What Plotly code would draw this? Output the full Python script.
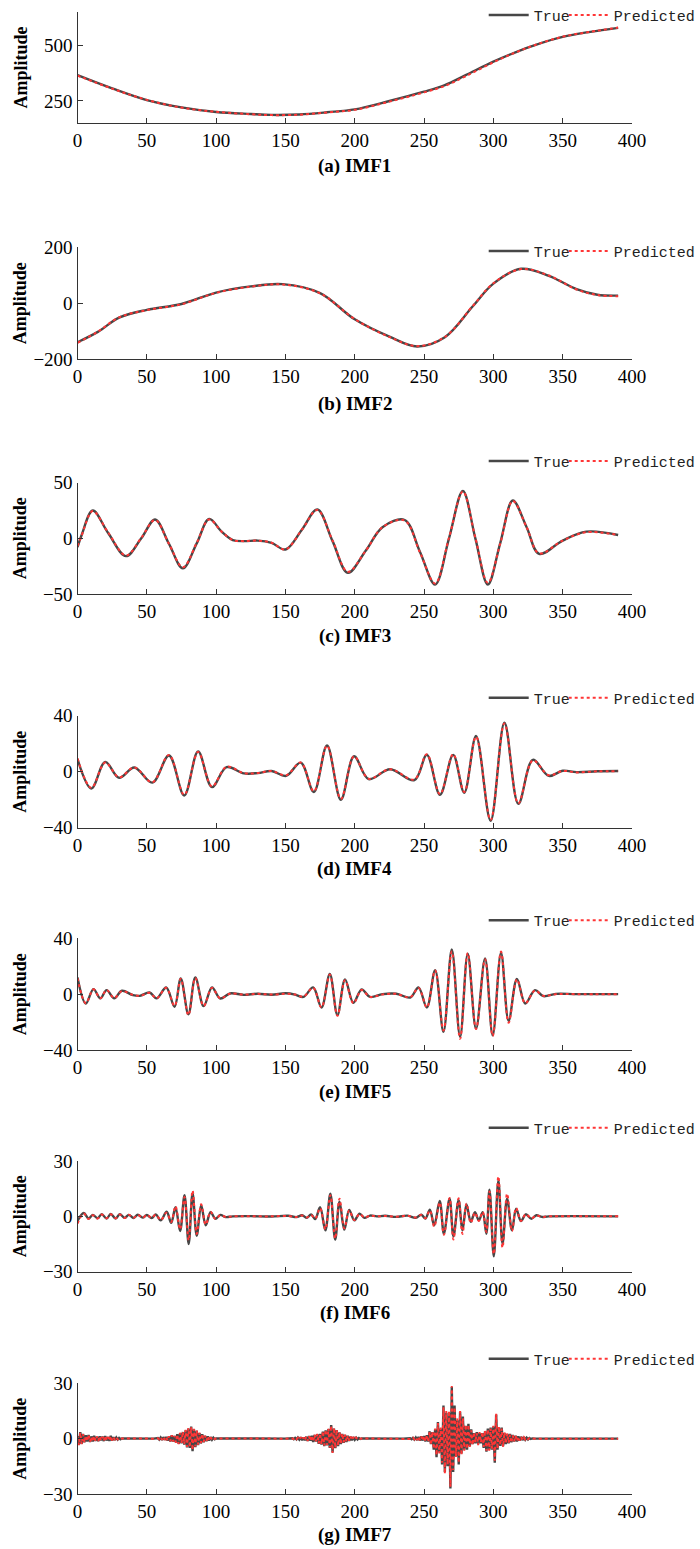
import plotly.graph_objects as go

# ---------------- IMF1 ----------------
x1 = [0, 25, 50, 75, 100, 125, 140, 160, 180, 200, 225, 250, 265, 280, 300, 315, 330, 350, 370, 390]
true1 = [367, 307, 254, 221, 200, 191, 187, 189, 199, 212, 250, 292, 322, 367, 428, 468, 503, 540, 563, 581]
pred1 = [365, 306, 255, 220, 201, 190, 186, 188, 198, 210, 247, 289, 318, 362, 425, 467, 503, 541, 563, 582]

# ---------------- IMF2 ----------------
x2 = [0, 15, 30, 50, 75, 100, 125, 148, 175, 200, 225, 245, 265, 285, 300, 320, 340, 360, 375, 390]
true2 = [-140, -102, -52, -24, -3, 38, 60, 68, 36, -58, -120, -155, -122, -12, 70, 123, 98, 50, 30, 27]
pred2 = [-142, -101, -51, -25, -4, 37, 59, 67, 35, -57, -121, -154, -121, -11, 71, 122, 99, 49, 29, 25]

# ---------------- IMF3 ----------------
x3 = [0, 3, 11, 22, 35, 46, 56, 66, 76, 86, 95, 104, 112, 120, 130, 140, 150, 162, 173, 184,
      195, 208, 220, 236, 247, 258, 268, 278, 287, 296, 305, 314, 324, 333, 350, 367, 390]
true3 = [-8, 3, 25, 5, -16, 0, 17, -5, -27, -4.5, 17.5, 6, -1.5, -2.5, -2, -4, -10, 8, 26, -2.5,
         -31, -11, 10, 16.5, -12, -41.5, 0, 42.5, 0, -41.5, -4, 34, 10, -14, -2, 6, 3]
pred3 = [-7, 2.5, 24.5, 5.5, -15.5, 0.5, 16.5, -5, -26, -4, 17, 6, -1.5, -2.5, -2, -4, -10, 8, 25.5, -2,
         -30, -11, 10, 16, -12.5, -40.5, 0.5, 42, 0.5, -40, -4.5, 33.5, 10, -13.5, -2, 5.5, 3]

# ---------------- IMF4 ----------------
x4 = [0, 10, 20, 30, 41, 54, 66, 77, 87, 97, 107.5, 120, 130, 140, 150.5, 161, 170.5, 180, 190, 199.5,
      210, 225.5, 243, 252, 261.5, 271, 279, 287.5, 298, 308, 318, 328.5, 340, 350, 360, 375, 390]
true4 = [9, -12, 7, -4.4, 3, -7.8, 11.6, -17, 14.5, -11, 3.2, -1.2, -1, 0.5, -3, 6.5, -14.5, 18.7, -20, 11,
         -5.3, 1.7, -6, 12, -16.5, 12, -15, 25.5, -35, 35, -23, 8.5, -3, 0.7, -0.3, 0.3, 0.5]
pred4 = [9.5, -11.5, 6.5, -4, 3, -7.5, 12, -16.5, 14, -10.5, 3.5, -1, -1, 0.5, -2.5, 6.5, -14, 18.5, -19.5, 11,
         -5, 1.8, -5.5, 12.5, -16, 12.5, -14.5, 25, -34.5, 34.5, -22.5, 8, -2.5, 0.5, -0.5, 0.3, 0.3]

# ---------------- IMF5 ----------------
x5 = [0, 6, 11.5, 16.5, 21, 26.5, 32, 40, 45, 52, 57, 64, 70, 74.5, 80, 85, 91, 97, 103, 110,
      120, 130, 140, 150, 157, 163, 170, 176, 182, 187.5, 193, 199, 205, 211, 220, 230, 240, 246, 252, 258,
      264, 270, 276, 281.5, 287.5, 294, 299.5, 305.5, 311, 317, 323, 330, 336, 345, 360, 390]
true5 = [12, -6.7, 3.6, -3, 2.9, -3, 2.4, -0.7, -1.2, 1.2, -3, 4.8, -9, 11.2, -14.4, 12, -8.6, 4.8, -3.1, 0.5,
         -0.5, 0.3, -0.4, 0.6, -0.3, -2, 4.8, -9.6, 14.4, -15, 10.5, -6.2, 3.4, -2, 0, 0.3, -2.4, 4.8, -9.6, 17.2,
         -27, 32, -30.6, 29, -24.7, 25.6, -29.5, 29.7, -19, 10.8, -6.7, 2.9, -1.4, 0.2, 0, 0]
pred5 = [11.5, -6.5, 3.5, -3, 3, -2.8, 2.2, -0.5, -1.2, 1, -3, 4.5, -8.5, 11, -15, 11.5, -8.5, 4.5, -3, 0.3,
         -0.3, 0.2, -0.3, 0.3, -0.2, -1.8, 4.5, -9.5, 14, -15.5, 10, -6.5, 3, -2, -0.2, 0.2, -2.2, 4.5, -9.5, 17,
         -26, 30.5, -32, 29.5, -25, 25, -30, 30.5, -20.5, 10.5, -6.5, 2.6, -1.2, 0, 0, 0]

# ---------------- IMF6 ----------------
x6 = [0, 4.5, 8, 11, 14.5, 17.5, 21, 24, 27.5, 30.5, 34, 37, 40.5, 43.5, 47, 50, 53.5, 56.5, 60,
      64.3, 67.6, 70.7, 74, 77.2, 80.2, 83, 86, 89.2, 92.5, 96, 99.5, 103, 107, 112,
      125, 140, 152, 158, 162,
      165.5, 168.5, 171.5, 175, 178.8, 182.4, 185.9, 189, 192.5, 196, 199.7, 203.5, 207, 211, 216,
      222, 230, 238, 244,
      248, 251, 254.2, 257.3, 261.3, 264.3, 268.4, 271.2, 274.9, 277.7, 280.6, 283.7, 286.7, 289.5, 292.3,
      294.9, 297.2, 300.3, 303.6, 306.6, 309.9, 313.4, 316.4, 319.9, 323.4, 327.4, 331, 335, 340, 390]
true6 = [-2.5, 1.8, -1.2, 0.8, -1.0, 1.2, -1.2, 1.3, -1.2, 1.2, -0.8, 0.8, -0.9, 0.9, -0.7, 0.7, -0.9, 1.0, -2.2,
         2.5, -3.5, 5, -8, 11.5, -15, 12.5, -10.5, 6, -4.8, 2.2, -1.3, 0.8, -0.4, 0,
         0.1, -0.1, 0.3, -0.4, 0.6,
         -0.8, 1.0, -1.5, 5, -7.6, 12.3, -12.6, 8, -7.2, 3.5, -2.2, 1.5, -0.8, 0.4, 0,
         0.3, -0.3, 0.4, -0.8,
         0.9, -1.2, 3.6, -4.9, 8.3, -9.4, 9.6, -10.8, 8.7, -7.6, 6.5, -3, 2.3, -2.2, 2.3,
         -9.4, 14.5, -21.7, 19.5, -14.8, 9.6, -7.6, 4.2, -2.5, 1.1, -1.3, 0.6, -0.3, 0, 0]
pred6 = [-4, 1.5, -1.4, 0.6, -1.2, 1.0, -1.0, 1.1, -1.0, 1.0, -0.9, 0.9, -0.8, 0.8, -0.8, 0.8, -0.8, 0.9, -2.0,
         2.0, -3.0, 5.5, -7, 10.5, -13, 14, -9.5, 6.5, -4.5, 2.5, -1.5, 0.6, -0.3, 0,
         0, 0, 0.2, -0.3, 0.5,
         -0.6, 0.8, -1.2, 4.5, -7, 11.5, -12, 9.6, -6.5, 3.2, -2, 1.3, -0.6, 0.3, 0,
         0.2, -0.2, 0.3, -0.6,
         0.8, -1, 3.2, -5.5, 7.5, -10, 10, -12.6, 9.8, -9.5, 7, -3.5, 2, -2.5, 2.5,
         -8.5, 13.5, -20.5, 21.7, -17, 12.3, -8, 4.5, -2.5, 1.2, -1.1, 0.5, -0.3, 0, 0]

# ---------------- IMF7 (sample-by-sample bursts) ----------------
imf7_burst_starts = [0, 58, 155, 240]
imf7_quiet_x = [[40, 55], [110, 150], [215, 235], [345, 390]]
true7_bursts = [
    [1.5, -3.2, 3.5, -2.8, 2.6, -2.0, 1.8, -1.6, 2.0, -1.8, 1.2, -1.5, 1.6, -1.2, 1.0, -1.4, 1.2, -0.9,
     1.1, -1.3, 1.4, -1.0, 0.8, -1.2, 1.5, -1.1, 0.8, -0.7, 0.6, -0.5, 0.4, -0.3, 0.1],
    [0.3, -0.5, 0.6, -0.7, 0.8, -0.6, 0.9, -1.0, 1.2, -1.5, 1.8, -1.6, 1.4, -2.0, 2.4, -2.8, 3.0, -2.5,
     3.6, -3.2, 4.5, -4.8, 5.5, -5.0, 6.6, -6.8, 5.0, -4.6, 4.2, -3.5, 3.0, -2.6, 2.4, -2.0, 1.5, -1.4,
     1.2, -1.0, 0.8, -0.6, 0.5, -0.3, 0.1],
    [0.2, -0.3, 0.4, -0.4, 0.6, -0.5, 0.7, -0.8, 0.6, -0.9, 1.0, -1.2, 1.4, -1.1, 1.6, -1.8, 2.0, -1.6,
     2.4, -2.8, 2.6, -3.2, 3.8, -4.0, 4.5, -3.6, 5.2, -5.0, 7.3, -7.5, 5.5, -5.2, 4.6, -4.0, 3.4, -3.0,
     2.6, -2.2, 2.0, -1.8, 1.5, -1.2, 1.0, -0.9, 0.8, -0.6, 0.5, -0.4, 0.3, -0.2, 0.1],
    [0.2, -0.3, 0.4, -0.5, 0.6, -0.8, 0.9, -1.0, 1.2, -1.0,
     1.4, -1.5, 1.8, -1.6, 4.0, -3.0, 3.5, -6.0, 5.0, -10.0,
     9.0, -7.5, 5.5, -14.0, 18.0, -18.0, 14.0, -15.0, 14.0, -27.0,
     28.0, -18.0, 18.0, -9.5, 10.0, -14.0, 14.5, -8.0, 12.0, -6.0,
     7.0, -6.0, 8.0, -4.0, 5.0, -3.0, 3.0, -2.5, 3.5, -3.0,
     3.0, -2.5, 3.0, -5.0, 4.0, -7.0, 5.5, -6.0, 6.0, -6.0,
     6.5, -13.0, 13.0, -6.0, 6.0, -4.0, 6.0, -4.0, 3.0, -3.0,
     2.5, -2.5, 2.5, -2.0, 2.0, -1.5, 1.5, -1.5, 1.2, -1.0,
     1.0, -0.8, 0.8, -0.6, 0.5, -0.4, 0.3, -0.2, 0.1, -0.1,
     0.0],
]
pred7_bursts = [
    [1.2, -3.5, 3.2, -3.0, 2.4, -2.2, 1.6, -1.4, 2.2, -1.6, 1.0, -1.6, 1.4, -1.3, 1.1, -1.2, 1.3, -1.0,
     1.0, -1.2, 1.5, -0.9, 0.9, -1.1, 1.4, -1.0, 0.7, -0.8, 0.5, -0.4, 0.3, -0.2, 0.1],
    [0.2, -0.4, 0.7, -0.6, 0.9, -0.7, 0.8, -1.1, 1.3, -1.4, 1.9, -1.5, 1.5, -2.2, 2.2, -3.0, 3.2, -2.3,
     3.8, -3.0, 4.8, -4.5, 5.8, -4.6, 6.2, -6.2, 5.3, -4.2, 4.5, -3.2, 3.3, -2.4, 2.6, -1.8, 1.6, -1.2,
     1.3, -0.9, 0.7, -0.5, 0.4, -0.2, 0.1],
    [0.1, -0.2, 0.5, -0.3, 0.5, -0.6, 0.8, -0.7, 0.7, -1.0, 0.9, -1.3, 1.3, -1.2, 1.7, -1.6, 2.2, -1.5,
     2.6, -2.6, 2.8, -3.0, 4.0, -3.8, 4.8, -3.4, 5.5, -4.8, 7.0, -7.8, 5.8, -5.0, 4.8, -3.8, 3.6, -2.8,
     2.8, -2.0, 2.1, -1.6, 1.6, -1.1, 1.1, -0.8, 0.9, -0.5, 0.6, -0.3, 0.3, -0.1, 0.1],
    [0.1, -0.2, 0.5, -0.4, 0.7, -0.7, 1.0, -0.9, 1.1, -1.1,
     1.5, -1.4, 2.0, -1.8, 3.6, -3.4, 3.8, -5.5, 5.5, -9.0,
     8.5, -8.0, 6.0, -13.0, 17.0, -19.0, 15.0, -14.0, 15.0, -26.0,
     28.5, -17.0, 17.0, -10.0, 11.0, -13.0, 15.0, -9.0, 11.0, -6.5,
     7.5, -5.5, 7.5, -4.5, 4.5, -3.5, 3.5, -2.0, 3.0, -3.5,
     3.5, -2.0, 3.5, -4.5, 4.5, -6.5, 5.0, -6.5, 5.5, -5.5,
     7.0, -12.0, 13.5, -5.5, 6.5, -3.5, 5.5, -4.5, 3.5, -2.5,
     2.8, -2.2, 2.2, -2.2, 1.8, -1.4, 1.6, -1.3, 1.0, -1.1,
     0.9, -0.7, 0.7, -0.5, 0.4, -0.3, 0.2, -0.1, 0.1, 0.0,
     0.0],
]

x7, true7, pred7 = [], [], []
for start, tb, pb, quiet in zip(imf7_burst_starts, true7_bursts, pred7_bursts, imf7_quiet_x):
    x7 += [start + i for i in range(len(tb))] + quiet
    true7 += tb + [0] * len(quiet)
    pred7 += pb + [0] * len(quiet)

# ---------------- panel settings ----------------
captions = ["(a) IMF1", "(b) IMF2", "(c) IMF3", "(d) IMF4", "(e) IMF5", "(f) IMF6", "(g) IMF7"]
series = [(x1, true1, pred1), (x2, true2, pred2), (x3, true3, pred3), (x4, true4, pred4),
          (x5, true5, pred5), (x6, true6, pred6), (x7, true7, pred7)]
y_ranges = [[149, 654], [-200, 200], [-50, 50], [-40, 40], [-40, 40], [-30, 30], [-30, 30]]
y_ticks = [[250, 500], [-200, 0, 200], [-50, 0, 50], [-40, 0, 40], [-40, 0, 40], [-30, 0, 30], [-30, 0, 30]]
x_ticks = [0, 50, 100, 150, 200, 250, 300, 350, 400]

W, H = 700, 1549
axis_top = [11.7, 247.3, 482.7, 715.7, 938.3, 1161, 1383.3]
axis_bottom = [123.3, 359, 594, 827.7, 1050, 1271.7, 1494]
legend_y = [15.2, 251.2, 461.2, 698, 920.5, 1128, 1359]
caption_y = [165.5, 404, 636, 869, 1092, 1313, 1535]
x_left, x_right = 77.5, 632
legend_left = 483.7

SERIF = "Liberation Serif"
AXIS_COLOR = "#333333"
TRUE_COLOR = "#474747"
PRED_COLOR = "#ff3535"

fig = go.Figure()
layout = dict(
    width=W, height=H,
    margin=dict(l=0, r=0, t=0, b=0, autoexpand=False),
    paper_bgcolor="white", plot_bgcolor="white",
    showlegend=True,
    annotations=[],
)

for k in range(7):
    sfx = "" if k == 0 else str(k + 1)
    xs, ts, ps = series[k]
    shape = "linear" if k == 6 else "spline"
    legend_name = "legend" + sfx
    fig.add_trace(go.Scatter(
        x=xs, y=ts, mode="lines", name="True", legendwidth=25,
        line=dict(color=TRUE_COLOR, width=2.4, shape=shape),
        xaxis="x" + sfx, yaxis="y" + sfx, legend=legend_name))
    fig.add_trace(go.Scatter(
        x=xs, y=ps, mode="lines", name="Predicted", legendwidth=90,
        line=dict(color=PRED_COLOR, width=2, dash="dot", shape=shape),
        xaxis="x" + sfx, yaxis="y" + sfx, legend=legend_name))

    dom_y = [1 - axis_bottom[k] / H, 1 - axis_top[k] / H]
    layout["xaxis" + sfx] = dict(
        domain=[x_left / W, x_right / W], range=[0, 400], anchor="y" + sfx,
        tickmode="array", tickvals=x_ticks, ticks="inside", ticklen=5, tickwidth=1.2,
        tickcolor=AXIS_COLOR, showline=True, linecolor=AXIS_COLOR, linewidth=1.2,
        showgrid=False, zeroline=False, automargin=False,
        tickfont=dict(family=SERIF, size=19, color="black"))
    layout["yaxis" + sfx] = dict(
        domain=dom_y, range=y_ranges[k], anchor="x" + sfx,
        tickmode="array", tickvals=y_ticks[k], ticks="inside", ticklen=5, tickwidth=1.2,
        tickcolor=AXIS_COLOR, showline=True, linecolor=AXIS_COLOR, linewidth=1.2,
        showgrid=False, zeroline=False, automargin=False,
        tickfont=dict(family=SERIF, size=19, color="black"))
    layout[legend_name] = dict(
        orientation="h", x=legend_left / W, xanchor="left", xref="paper",
        y=1 - legend_y[k] / H, yanchor="middle", yref="paper",
        font=dict(family="Liberation Mono", size=15, color="#222222"),
        bgcolor="rgba(0,0,0,0)", borderwidth=0, itemwidth=40,
        itemclick=False, itemdoubleclick=False)

    layout["annotations"].append(dict(
        text="<b>Amplitude</b>", textangle=-90, showarrow=False,
        x=20 / W, xref="paper", xanchor="center",
        y=1 - (axis_top[k] + axis_bottom[k]) / 2 / H, yref="paper", yanchor="middle",
        font=dict(family=SERIF, size=18, color="black")))
    layout["annotations"].append(dict(
        text="<b>" + captions[k] + "</b>", showarrow=False,
        x=(x_left + x_right) / 2 / W, xref="paper", xanchor="center",
        y=1 - caption_y[k] / H, yref="paper", yanchor="middle",
        font=dict(family=SERIF, size=19, color="black")))

fig.update_layout(**layout)
fig.write_html("out.html")
